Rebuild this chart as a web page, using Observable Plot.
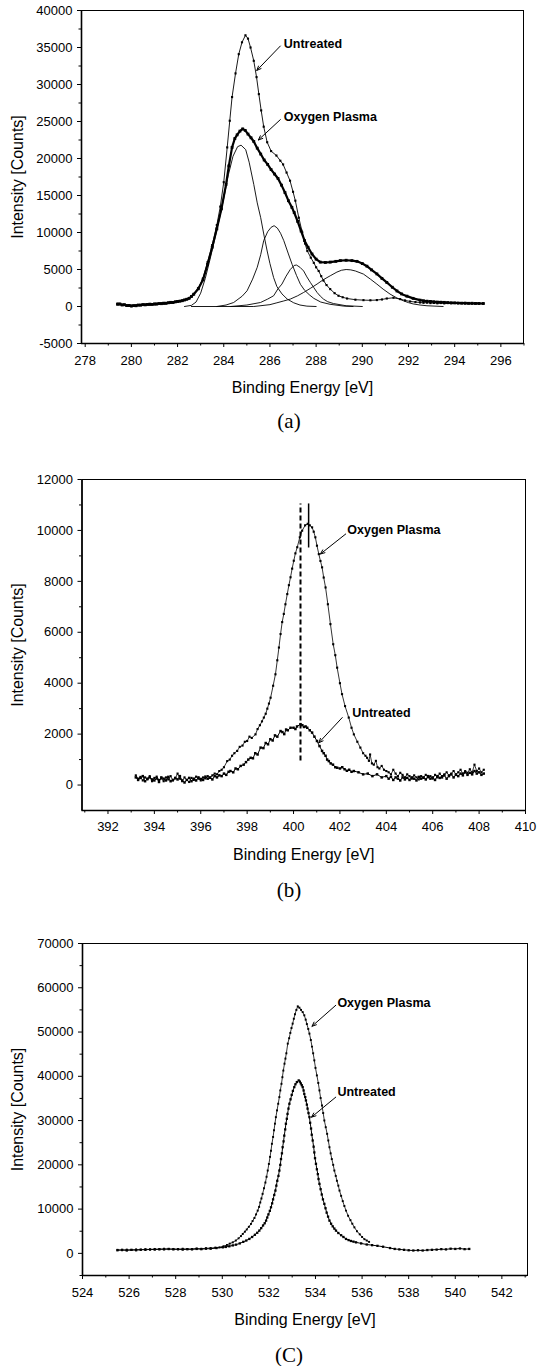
<!DOCTYPE html>
<html><head><meta charset="utf-8">
<script src="https://cdn.jsdelivr.net/npm/d3@7"></script>
<script src="https://cdn.jsdelivr.net/npm/@observablehq/plot@0.6"></script>
<style>
body{margin:0;background:#fff;width:544px;height:1366px;position:relative;overflow:hidden;}
.panel{position:absolute;left:0;}
.cap{position:absolute;left:0;width:578px;text-align:center;font-family:"Liberation Serif","Times New Roman",serif;font-size:21px;line-height:24px;color:#000;}
</style></head><body>
<div id="pa" class="panel" style="top:0px"></div>
<div class="cap" style="top:409px">(a)</div>
<div id="pb" class="panel" style="top:440px"></div>
<div class="cap" style="top:878px">(b)</div>
<div id="pc" class="panel" style="top:905px"></div>
<div class="cap" style="top:1343px">(C)</div>
<script>
// ---------- Panel (a): C 1s ----------
const aUntreated = [[279.4,400],[279.5,300],[279.6,250],[279.7,200],[279.8,150],[279.9,100],[280.0,120],[280.1,80],[280.2,150],[280.3,180],[280.4,220],[280.5,200],[280.6,260],[280.7,300],[280.8,250],[280.9,330],[281.0,300],[281.1,380],[281.2,350],[281.3,420],[281.4,400],[281.5,480],[281.6,520],[281.7,500],[281.8,600],[281.9,650],[282.0,700],[282.1,750],[282.2,820],[282.3,900],[282.4,1000],[282.5,1150],[282.6,1400],[282.7,1700],[282.9,2500],[283.1,3800],[283.3,6000],[283.5,8300],[283.7,11000],[283.85,13500],[284.0,16800],[284.15,21500],[284.26,25100],[284.36,28300],[284.51,31500],[284.65,34100],[284.79,35700],[284.94,36650],[285.05,36200],[285.16,35000],[285.3,33200],[285.42,31000],[285.52,28700],[285.62,26500],[285.73,24300],[285.88,22200],[286.05,21000],[286.28,20400],[286.45,19700],[286.57,19200],[286.72,18100],[286.87,17000],[287.0,15500],[287.1,14300],[287.25,12000],[287.4,10000],[287.52,8500],[287.62,7500],[287.77,6600],[287.9,5900],[288.0,5300],[288.11,4800],[288.22,4100],[288.32,3500],[288.45,2900],[288.61,2350],[288.8,1800],[288.97,1450],[289.15,1250],[289.34,1080],[289.7,920],[290.05,860],[290.35,840],[290.63,870],[290.85,950],[291.06,1080],[291.35,1180],[291.64,1000],[291.85,820],[292.07,680],[292.3,600],[292.5,540],[292.65,500],[292.8,520],[292.95,460],[293.1,480],[293.25,430],[293.4,470],[293.55,420],[293.7,460],[293.85,440],[294.0,480],[294.15,430],[294.3,460],[294.45,410],[294.6,450],[294.75,400],[294.9,430],[295.05,380],[295.24,420]];
const aOxygen = [[279.4,300],[279.5,350],[279.6,200],[279.7,250],[279.8,120],[279.9,150],[280.0,60],[280.1,120],[280.2,100],[280.3,200],[280.4,180],[280.5,260],[280.6,220],[280.7,280],[280.8,320],[280.9,280],[281.0,350],[281.1,330],[281.2,400],[281.3,380],[281.4,450],[281.5,430],[281.6,500],[281.7,560],[281.8,540],[281.9,620],[282.0,680],[282.1,720],[282.2,780],[282.3,880],[282.4,980],[282.5,1100],[282.6,1350],[282.7,1650],[282.9,2400],[283.1,3600],[283.3,5700],[283.5,8000],[283.7,10500],[283.9,13200],[284.1,16500],[284.22,19000],[284.36,21500],[284.48,22700],[284.58,23200],[284.7,23700],[284.82,24000],[284.93,23800],[285.05,23300],[285.18,22800],[285.3,22300],[285.45,21400],[285.6,20600],[285.75,19800],[285.9,19200],[286.05,18500],[286.2,17900],[286.35,17300],[286.5,16400],[286.65,15400],[286.8,14300],[286.95,13400],[287.05,12700],[287.2,11500],[287.35,10200],[287.5,8900],[287.65,8000],[287.82,7100],[288.0,6400],[288.18,6000],[288.4,5950],[288.61,6000],[288.85,6100],[289.05,6200],[289.3,6250],[289.55,6200],[289.77,6100],[290.0,5800],[290.2,5450],[290.4,4950],[290.63,4400],[290.85,3800],[291.06,3250],[291.3,2600],[291.5,2100],[291.7,1700],[291.93,1400],[292.2,1100],[292.5,860],[292.65,780],[292.8,720],[292.95,680],[293.1,640],[293.25,600],[293.4,580],[293.55,560],[293.7,530],[293.85,500],[294.0,480],[294.15,470],[294.3,450],[294.45,460],[294.6,430],[294.75,440],[294.9,410],[295.05,420],[295.24,400]];
const aFit1 = [[282.3,0],[282.6,150],[282.8,600],[283.0,1800],[283.2,3800],[283.4,6300],[283.6,9000],[283.8,11700],[284.0,14600],[284.2,17800],[284.4,20300],[284.6,21600],[284.75,21800],[284.95,21200],[285.1,19500],[285.3,16500],[285.45,14000],[285.6,12000],[285.75,9500],[285.88,7500],[286.0,5800],[286.16,3900],[286.3,2700],[286.52,1700],[286.75,1000],[287.03,500],[287.3,200],[287.6,50],[288.0,0]];
const aFit2 = [[283.7,0],[284.1,200],[284.43,540],[284.8,1400],[285.01,2120],[285.25,3700],[285.45,5300],[285.6,7000],[285.73,8900],[285.9,10100],[286.05,10700],[286.18,10920],[286.32,10600],[286.46,9900],[286.6,8900],[286.8,7100],[286.96,5700],[287.15,4200],[287.32,3000],[287.5,2200],[287.7,1600],[287.9,1100],[288.2,600],[288.6,300],[289.2,50],[289.6,0]];
const aFit3 = [[284.3,0],[285.0,200],[285.59,540],[285.9,1000],[286.16,1450],[286.35,2400],[286.52,3030],[286.7,4100],[286.88,5000],[287.05,5550],[287.15,5600],[287.3,5300],[287.46,4800],[287.6,4000],[287.75,3250],[287.9,2550],[288.04,1900],[288.18,1400],[288.32,1000],[288.5,650],[288.75,400],[289.3,100],[290.0,0]];
const aFit4 = [[282.6,0],[285.3,0],[286.0,250],[286.3,500],[286.6,750],[286.88,1000],[287.2,1450],[287.46,1900],[287.75,2450],[288.04,3030],[288.3,3600],[288.61,4150],[288.9,4650],[289.1,4900],[289.3,5000],[289.5,4950],[289.7,4800],[290.05,4380],[290.35,3700],[290.63,3030],[290.9,2350],[291.2,1680],[291.5,1150],[291.78,770],[292.0,520],[292.2,350],[292.5,200],[292.8,100],[293.5,0]];
const aLabels = [{text:"Untreated",x:286.6,y:35500},{text:"Oxygen Plasma",x:286.6,y:25550}];
const aArrows = [{x1:286.45,y1:35200,x2:285.43,y2:31900},{x1:286.45,y1:25250,x2:285.5,y2:22500}];
const aXTicks = [278,280,282,284,286,288,290,292,294,296];
const aXMinor = [279,281,283,285,287,289,291,293,295,297];
const aYTicks = [-5000,0,5000,10000,15000,20000,25000,30000,35000,40000];
const aYMinor = [-2500,2500,7500,12500,17500,22500,27500,32500,37500];

// ---------- Panel (b): N 1s ----------
const bOxygen = [[393.2,380],[393.3,250],[393.4,320],[393.5,180],[393.6,300],[393.7,220],[393.8,350],[393.9,150],[394.0,280],[394.1,330],[394.2,200],[394.3,260],[394.4,150],[394.5,300],[394.6,220],[394.7,350],[394.8,180],[394.9,260],[395.0,450],[395.1,250],[395.2,150],[395.3,300],[395.4,200],[395.5,120],[395.6,280],[395.7,200],[395.8,330],[395.9,250],[396.0,180],[396.1,300],[396.2,260],[396.3,350],[396.4,280],[396.5,380],[396.6,450],[396.7,420],[396.8,550],[396.9,600],[397.0,700],[397.14,940],[397.25,1000],[397.35,1150],[397.45,1250],[397.57,1340],[397.68,1500],[397.8,1550],[397.9,1700],[398.0,1730],[398.1,1900],[398.2,1850],[398.36,1990],[398.45,2200],[398.55,2350],[398.64,2500],[398.72,2650],[398.8,2800],[398.87,3000],[398.94,3200],[399.01,3430],[399.12,3900],[399.22,4350],[399.3,4900],[399.37,5400],[399.44,5930],[399.51,6400],[399.58,6720],[399.65,7100],[399.73,7500],[399.8,7850],[399.87,8160],[399.94,8500],[400.01,8810],[400.08,9100],[400.16,9340],[400.27,9730],[400.37,9990],[400.5,10200],[400.61,10260],[400.7,10200],[400.8,10120],[400.87,9950],[400.94,9730],[401.01,9400],[401.09,9070],[401.16,8800],[401.23,8550],[401.3,8150],[401.38,7760],[401.48,7100],[401.59,6320],[401.71,5530],[401.8,5100],[401.88,4610],[402.0,4000],[402.09,3570],[402.22,3100],[402.38,2650],[402.5,2250],[402.6,1990],[402.75,1700],[402.88,1470],[403.0,1250],[403.1,1150],[403.17,1070],[403.25,950],[403.3,1200],[403.38,850],[403.46,800],[403.55,950],[403.62,700],[403.7,650],[403.8,750],[403.9,600],[404.0,550],[404.1,500],[404.2,420],[404.3,600],[404.4,450],[404.5,350],[404.6,480],[404.7,400],[404.8,300],[404.9,420],[405.0,350],[405.1,250],[405.2,380],[405.3,300],[405.4,220],[405.5,350],[405.6,280],[405.7,400],[405.8,300],[405.9,350],[406.0,250],[406.1,400],[406.2,300],[406.3,450],[406.4,350],[406.5,420],[406.6,500],[406.7,380],[406.8,450],[406.9,550],[407.0,420],[407.1,500],[407.2,600],[407.3,450],[407.4,550],[407.5,480],[407.6,620],[407.7,500],[407.8,800],[407.9,550],[408.0,650],[408.1,500],[408.2,600]];
const bUntreated = [[393.2,300],[393.3,200],[393.4,280],[393.5,350],[393.6,150],[393.7,250],[393.8,300],[393.9,220],[394.0,180],[394.1,260],[394.2,120],[394.3,300],[394.4,250],[394.5,180],[394.6,320],[394.7,150],[394.8,200],[394.9,280],[395.0,220],[395.1,350],[395.2,180],[395.3,100],[395.4,200],[395.5,280],[395.6,150],[395.7,250],[395.8,180],[395.9,300],[396.0,240],[396.1,200],[396.2,330],[396.3,250],[396.4,300],[396.5,220],[396.6,350],[396.7,300],[396.8,380],[396.9,350],[397.0,450],[397.1,400],[397.2,520],[397.28,550],[397.4,500],[397.5,650],[397.6,620],[397.72,750],[397.85,800],[397.95,900],[398.05,1000],[398.15,1070],[398.25,1050],[398.35,1250],[398.45,1200],[398.58,1470],[398.7,1450],[398.8,1650],[398.9,1600],[399.0,1800],[399.1,1750],[399.2,1950],[399.3,1900],[399.44,2120],[399.52,2080],[399.6,2000],[399.68,2180],[399.75,2150],[399.87,2250],[400.0,2250],[400.08,2200],[400.15,2300],[400.3,2390],[400.38,2350],[400.45,2280],[400.52,2300],[400.59,2250],[400.7,2150],[400.8,2060],[400.9,1900],[401.01,1730],[401.12,1530],[401.23,1340],[401.3,1250],[401.38,1150],[401.45,1000],[401.52,940],[401.6,850],[401.7,800],[401.8,700],[401.88,680],[402.0,650],[402.1,700],[402.2,620],[402.3,560],[402.4,600],[402.5,520],[402.6,550],[402.8,500],[403.0,420],[403.2,450],[403.4,350],[403.6,420],[403.8,300],[404.0,350],[404.1,250],[404.2,320],[404.3,200],[404.4,300],[404.5,250],[404.6,180],[404.7,300],[404.8,220],[404.9,280],[405.0,200],[405.1,300],[405.2,250],[405.3,180],[405.4,320],[405.5,250],[405.6,300],[405.7,220],[405.8,350],[405.9,250],[406.0,300],[406.1,200],[406.2,350],[406.3,280],[406.4,300],[406.5,380],[406.6,250],[406.7,350],[406.8,420],[406.9,300],[407.0,400],[407.1,350],[407.2,450],[407.3,380],[407.4,500],[407.5,400],[407.6,480],[407.7,420],[407.8,550],[407.9,450],[408.0,500],[408.1,400],[408.2,450]];
const bLabels = [{text:"Oxygen Plasma",x:402.32,y:10020},{text:"Untreated",x:402.53,y:2830}];
const bArrows = [{x1:402.25,y1:9860,x2:401.16,y2:9075},{x1:402.1,y1:2650,x2:401.09,y2:1660}];
const bDashed = [{x:400.3,y1:944,y2:11040}];
const bSolid = [{x:400.65,y1:9310,y2:11040}];
const bXTicks = [392,394,396,398,400,402,404,406,408,410];
const bXMinor = [391,393,395,397,399,401,403,405,407,409];
const bYTicks = [0,2000,4000,6000,8000,10000,12000];
const bYMinor = [1000,3000,5000,7000,9000,11000];

// ---------- Panel (c): O 1s ----------
const cOxygen = [[525.5,800],[525.7,700],[525.9,850],[526.1,750],[526.3,900],[526.5,800],[526.7,950],[526.9,850],[527.1,1000],[527.3,900],[527.5,1050],[527.7,950],[527.9,1000],[528.1,900],[528.3,1050],[528.5,950],[528.7,1000],[528.9,1100],[529.1,1050],[529.3,1150],[529.5,1200],[529.7,1300],[529.88,1360],[530.05,1600],[530.2,1900],[530.32,2200],[530.45,2490],[530.58,2900],[530.7,3400],[530.8,3900],[530.88,4390],[530.97,4900],[531.05,5400],[531.14,6000],[531.23,6650],[531.3,7300],[531.38,8000],[531.45,8800],[531.52,9660],[531.58,10500],[531.63,11500],[531.68,12400],[531.73,13440],[531.79,14700],[531.85,16000],[531.9,17300],[531.95,18710],[532.0,20200],[532.05,21800],[532.09,23200],[532.13,24750],[532.18,26300],[532.22,27800],[532.26,29300],[532.3,30770],[532.35,32300],[532.4,33800],[532.45,35300],[532.49,36810],[532.54,38300],[532.58,39800],[532.62,41300],[532.67,42850],[532.71,44000],[532.75,45200],[532.81,47380],[532.87,48600],[532.92,49800],[532.97,50900],[533.02,51900],[533.07,53000],[533.12,54000],[533.18,55000],[533.24,55800],[533.31,55500],[533.38,55000],[533.45,54500],[533.52,53780],[533.58,52800],[533.63,51800],[533.69,50700],[533.74,49640],[533.8,48200],[533.85,46700],[533.9,45200],[533.95,43600],[534.0,41900],[534.06,40200],[534.12,38500],[534.17,36810],[534.22,35100],[534.28,33400],[534.33,31700],[534.38,30020],[534.44,28500],[534.5,27000],[534.55,25500],[534.6,23980],[534.65,22600],[534.7,21300],[534.76,20000],[534.81,18710],[534.87,17500],[534.92,16400],[534.98,15300],[535.03,14190],[535.1,13000],[535.17,11800],[535.24,10700],[535.31,9660],[535.4,8500],[535.5,7500],[535.58,6700],[535.67,5880],[535.78,5000],[535.9,4300],[536.0,3700],[536.1,3200],[536.2,2900],[536.3,2600]];
const cUntreated = [[525.5,700],[525.7,800],[525.9,650],[526.1,800],[526.3,700],[526.5,850],[526.7,800],[526.9,900],[527.1,850],[527.3,950],[527.5,900],[527.7,1000],[527.9,900],[528.1,950],[528.3,850],[528.5,950],[528.7,900],[528.9,1000],[529.1,950],[529.3,1050],[529.5,1050],[529.75,1200],[530.02,1360],[530.15,1450],[530.3,1600],[530.45,1800],[530.59,1970],[530.75,2250],[530.9,2600],[531.03,2900],[531.16,3260],[531.28,3700],[531.4,4200],[531.5,4650],[531.59,5140],[531.67,5700],[531.75,6300],[531.82,6800],[531.88,7400],[531.93,8100],[531.98,8800],[532.04,9600],[532.09,10410],[532.14,11300],[532.18,12200],[532.23,13200],[532.28,14190],[532.32,15300],[532.36,16400],[532.41,17500],[532.45,18710],[532.49,20000],[532.52,21300],[532.56,22600],[532.59,23980],[532.63,25300],[532.66,26600],[532.7,28000],[532.73,29280],[532.77,30400],[532.8,31500],[532.84,32700],[532.88,33800],[532.93,34800],[532.98,35800],[533.03,36700],[533.09,37560],[533.14,38200],[533.2,38700],[533.28,39070],[533.33,38800],[533.37,38400],[533.41,38000],[533.45,37560],[533.49,36800],[533.52,36000],[533.56,35300],[533.59,34550],[533.63,33600],[533.66,32700],[533.7,31700],[533.74,30770],[533.77,29500],[533.81,28200],[533.84,26800],[533.88,25500],[533.92,24100],[533.95,22800],[533.98,21500],[534.02,20230],[534.06,19000],[534.1,17900],[534.13,16800],[534.17,15700],[534.22,14500],[534.27,13300],[534.32,12200],[534.38,11180],[534.43,10200],[534.48,9200],[534.54,8300],[534.6,7400],[534.67,6700],[534.74,6100],[534.81,5600],[534.88,5140],[534.98,4600],[535.1,4100],[535.2,3700],[535.31,3260],[535.42,3000],[535.52,2800],[535.63,2650],[535.74,2490],[535.96,2250],[536.2,2000],[536.43,1850],[536.66,1700],[536.9,1500],[537.2,1200],[537.4,1000],[537.6,900],[537.8,800],[538.0,700],[538.2,650],[538.4,700],[538.6,650],[538.8,750],[539.0,800],[539.2,850],[539.4,950],[539.6,900],[539.8,1050],[540.0,1000],[540.2,1100],[540.4,950],[540.6,1000]];
const cLabels = [{text:"Oxygen Plasma",x:534.94,y:56560},{text:"Untreated",x:534.94,y:36430}];
const cArrows = [{x1:534.87,y1:56040,x2:533.85,y2:51300},{x1:534.87,y1:35290,x2:533.83,y2:30770}];
const cXTicks = [524,526,528,530,532,534,536,538,540,542];
const cXMinor = [525,527,529,531,533,535,537,539,541,543];
const cYTicks = [0,10000,20000,30000,40000,50000,60000,70000];
const cYMinor = [-5000,5000,15000,25000,35000,45000,55000,65000];

const toRows = arr => arr.map(([e, v]) => ({e, v}));

function series(arr, {lw = 0.8, r = 1.1} = {}) {
  const rows = toRows(arr);
  return [
    Plot.line(rows, {x: "e", y: "v", stroke: "black", strokeWidth: lw}),
    Plot.dot(rows, {x: "e", y: "v", r, symbol: "square", fill: "black", stroke: "none"})
  ];
}
function fit(arr) {
  return Plot.line(toRows(arr), {x: "e", y: "v", stroke: "black", strokeWidth: 0.9});
}
function notes(labels, arrows) {
  return [
    Plot.arrow(arrows, {x1: "x1", y1: "y1", x2: "x2", y2: "y2", stroke: "black", strokeWidth: 1, headLength: 7, headAngle: 45}),
    Plot.text(labels, {x: "x", y: "y", text: "text", textAnchor: "start", fontWeight: "bold", fontSize: 12.5, fill: "black"})
  ];
}

function panel({height, mt, mb, ml, mr, xd, yd, xt, xm, yt, ym, marks, tickPad}) {
  return Plot.plot({
    width: 544, height,
    marginTop: mt, marginBottom: mb, marginLeft: ml, marginRight: mr,
    x: {domain: xd}, y: {domain: yd},
    style: {fontFamily: "'Liberation Sans', Arial, sans-serif", fontSize: "13px", color: "black", background: "white", overflow: "visible"},
    marks: [
      Plot.frame({stroke: "black", strokeWidth: 1}),
      Plot.ruleX([xd[0]], {stroke: "black", strokeWidth: 1.6}),
      Plot.ruleY([yd[0]], {stroke: "black", strokeWidth: 1.6}),
      Plot.axisX(xt, {tickSize: 4, tickPadding: tickPad, tickFormat: d => String(d), label: null, fontSize: 13}),
      Plot.axisX(xm, {tickSize: 2.5, tickFormat: () => "", label: null}),
      Plot.axisY(yt, {tickSize: 4, tickPadding: 5, tickFormat: d => String(d), label: null, fontSize: 13}),
      Plot.axisY(ym, {tickSize: 2.5, tickFormat: () => "", label: null}),
      ...marks,
      Plot.text(["Binding Energy [eV]"], {frameAnchor: "bottom", dy: 44, fontSize: 16, fill: "black", textAnchor: "middle", lineAnchor: "middle"}),
      Plot.text(["Intensity [Counts]"], {frameAnchor: "left", dx: 17.5 - ml, rotate: -90, fontSize: 16, fill: "black", textAnchor: "middle", lineAnchor: "middle"})
    ]
  });
}

document.getElementById("pa").appendChild(panel({
  height: 400, mt: 10, mb: 57, ml: 81, mr: 21,
  xd: [277.84, 296.98], yd: [-5000, 40000],
  xt: aXTicks, xm: aXMinor, yt: aYTicks, ym: aYMinor, tickPad: 8,
  marks: [
    fit(aFit1), fit(aFit2), fit(aFit3), fit(aFit4),
    ...series(aUntreated, {lw: 0.9, r: 1.2}),
    ...series(aOxygen, {lw: 2.2, r: 1.6}),
    ...notes(aLabels, aArrows)
  ]
}));

document.getElementById("pb").appendChild(panel({
  height: 430, mt: 39, mb: 60, ml: 81.5, mr: 19,
  xd: [390.88, 410], yd: [-1000, 12000],
  xt: bXTicks, xm: bXMinor, yt: bYTicks, ym: bYMinor, tickPad: 7,
  marks: [
    Plot.ruleX(bDashed, {x: "x", y1: "y1", y2: "y2", stroke: "black", strokeWidth: 2, strokeDasharray: "5,3"}),
    Plot.ruleX(bSolid, {x: "x", y1: "y1", y2: "y2", stroke: "black", strokeWidth: 1.5}),
    ...series(bUntreated, {lw: 1.0, r: 1.4}),
    ...series(bOxygen, {lw: 0.8, r: 1.2}),
    ...notes(bLabels, bArrows)
  ]
}));

document.getElementById("pc").appendChild(panel({
  height: 430, mt: 38, mb: 60, ml: 82, mr: 17,
  xd: [524, 543.1], yd: [-5000, 70000],
  xt: cXTicks, xm: cXMinor, yt: cYTicks, ym: cYMinor, tickPad: 8,
  marks: [
    ...series(cOxygen, {lw: 0.8, r: 1.1}),
    ...series(cUntreated, {lw: 1.0, r: 1.3}),
    ...notes(cLabels, cArrows)
  ]
}));
</script>
</body></html>
